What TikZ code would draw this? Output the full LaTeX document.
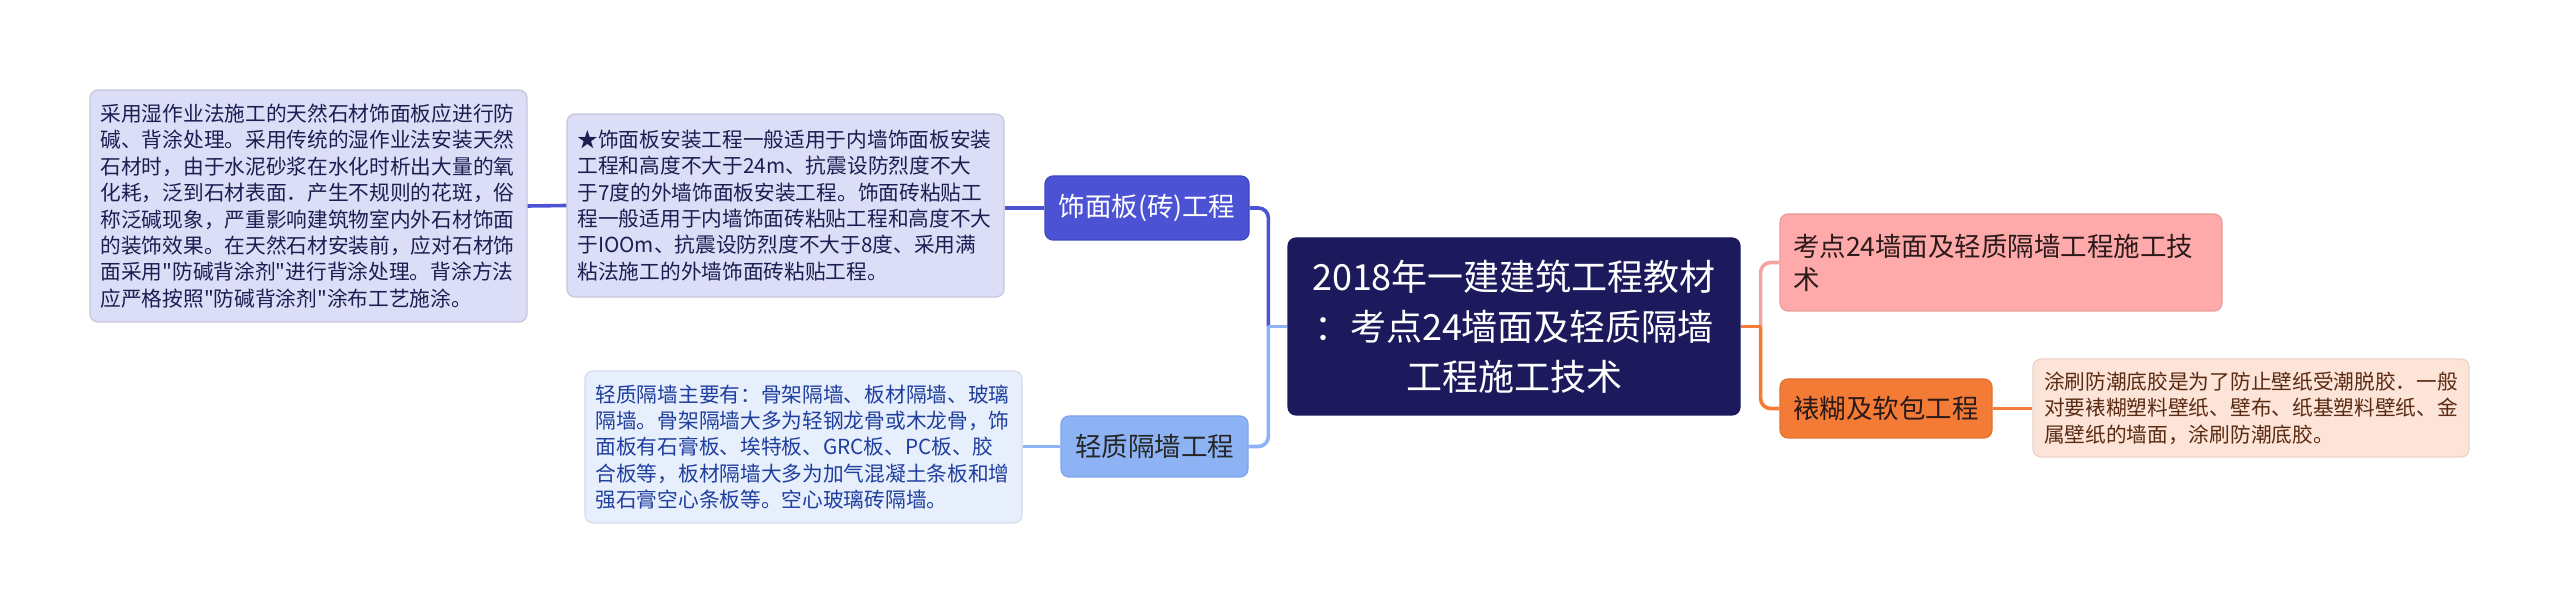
\documentclass[tikz,border=0pt]{standalone}
\usepackage{fontspec}
\setmainfont{Noto Sans CJK SC}
\newfontfamily\cjk{Noto Sans CJK SC}
\definecolor{cRoot}{HTML}{1C1A5C}
\definecolor{cBlue}{HTML}{4B53D4}
\definecolor{cBlueD}{HTML}{3E46C2}
\definecolor{cLav}{HTML}{DCDDF6}
\definecolor{cLavText}{HTML}{1E1D52}
\definecolor{cLight}{HTML}{8DB3F5}
\definecolor{cLightD}{HTML}{7CA4EC}
\definecolor{cPale}{HTML}{E7EFFC}
\definecolor{cPaleText}{HTML}{1F3F9E}
\definecolor{cPink}{HTML}{FFAAAA}
\definecolor{cPinkLine}{HTML}{F4A3A3}
\definecolor{cOrange}{HTML}{F47B35}
\definecolor{cPeach}{HTML}{FDE4D8}
\definecolor{cPeachText}{HTML}{5A2B12}
\definecolor{cDarkText}{HTML}{2A1A1A}
\begin{document}
\begin{tikzpicture}[x=0.5pt,y=-0.5pt,
  box/.style={rounded corners=4pt, draw, line width=0.6pt, inner sep=0pt},
  detail/.style={box, font=\cjk\fontsize{10.35pt}{13.2pt}\selectfont, text width=208pt, align=left, minimum width=218.5pt},
  branch/.style={box, font=\cjk\fontsize{13.25pt}{16.5pt}\selectfont, align=center},
  conn/.style={line width=1.8pt, rounded corners=5pt}]
\useasboundingbox (0,0) rectangle (2560,614);
\fill[white] (0,0) rectangle (2560,614);

% root
\node[box, fill=cRoot, draw=cRoot, text=white, align=center,
  font=\cjk\fontsize{18pt}{25pt}\selectfont, minimum width=226pt, minimum height=88.5pt]
  (root) at (1514,326.5) {2018年一建建筑工程教材\\：考点24墙面及轻质隔墙\\工程施工技术};

% left branches
\node[branch, fill=cBlue, draw=cBlueD, text=white, minimum width=102pt, minimum height=32pt]
  (b1) at (1147,208) {饰面板(砖)工程};
\node[branch, fill=cLight, draw=cLightD, text=black!85, minimum width=93.5pt, minimum height=30.5pt]
  (b2) at (1154.5,446.5) {轻质隔墙工程};

\node[detail, fill=cLav, draw=cLav!90!black, text=cLavText, minimum height=91.5pt]
  (l2) at (785.5,205.5) {★饰面板安装工程一般适用于内墙饰面板安装\\工程和高度不大于24m、抗震设防烈度不大\\于7度的外墙饰面板安装工程。饰面砖粘贴工\\程一般适用于内墙饰面砖粘贴工程和高度不大\\于IOOm、抗震设防烈度不大于8度、采用满\\粘法施工的外墙饰面砖粘贴工程。};
\node[detail, fill=cLav, draw=cLav!90!black, text=cLavText, minimum height=116pt]
  (l1) at (308.5,206) {采用湿作业法施工的天然石材饰面板应进行防\\碱、背涂处理。采用传统的湿作业法安装天然\\石材时，由于水泥砂浆在水化时析出大量的氧\\化耗，泛到石材表面．产生不规则的花斑，俗\\称泛碱现象，严重影响建筑物室内外石材饰面\\的装饰效果。在天然石材安装前，应对石材饰\\面采用"防碱背涂剂"进行背涂处理。背涂方法\\应严格按照"防碱背涂剂"涂布工艺施涂。};
\node[detail, fill=cPale, draw=cPale!92!black, text=cPaleText, minimum height=76pt]
  (l3) at (803.5,447) {轻质隔墙主要有：骨架隔墙、板材隔墙、玻璃\\隔墙。骨架隔墙大多为轻钢龙骨或木龙骨，饰\\面板有石膏板、埃特板、GRC板、PC板、胶\\合板等，板材隔墙大多为加气混凝土条板和增\\强石膏空心条板等。空心玻璃砖隔墙。};

% right branches
\node[branch, fill=cPink, draw=cPink!92!black, text=cDarkText, align=left, text width=208pt,
  minimum width=221pt, minimum height=48.5pt]
  (r1) at (2001,262.5) {考点24墙面及轻质隔墙工程施工技\\术};
\node[branch, fill=cOrange, draw=cOrange!92!black, text=cDarkText, minimum width=106pt, minimum height=29.5pt]
  (r2) at (1886,408.5) {裱糊及软包工程};
\node[detail, fill=cPeach, draw=cPeach!92!black, text=cPeachText, text width=207pt,
  minimum width=218pt, minimum height=49pt]
  (r3) at (2251,408) {涂刷防潮底胶是为了防止壁纸受潮脱胶．一般\\对要裱糊塑料壁纸、壁布、纸基塑料壁纸、金\\属壁纸的墙面，涂刷防潮底胶。};

% connectors
\coordinate (jl) at ([xshift=-9.5pt]root.west);
\coordinate (jr) at ([xshift=10pt]root.east);
\draw[conn, cBlue] (jl) |- (b1.east);
\draw[conn, cLight] (jl) |- (b2.east);
\draw[conn, cLight] (root.west) -- (jl);
\draw[conn, cBlue] (b1.west) -- (b1.west -| l2.east);
\draw[conn, cBlue] (l2.west) -- (l1.east);
\draw[conn, cLight] (b2.west) -- (b2.west -| l3.east);

\draw[conn, cPinkLine] (jr) |- (r1.west);
\draw[conn, cOrange] (jr) |- (r2.west);
\draw[conn, cOrange] (root.east) -- (jr);
\draw[conn, cOrange] (r2.east) -- (r2.east -| r3.west);
\end{tikzpicture}
\end{document}
